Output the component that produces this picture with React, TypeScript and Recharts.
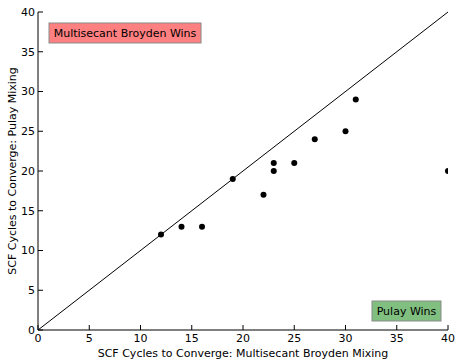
import React from 'react';
import {
  ScatterChart,
  Scatter,
  XAxis,
  YAxis,
  ReferenceLine,
  ReferenceDot,
  Label,
} from 'recharts';

const broydenCycles = [12, 14, 16, 19, 22, 23, 23, 25, 27, 30, 31, 40];
const pulayCycles = [12, 13, 13, 19, 17, 20, 21, 21, 24, 25, 29, 20];
const axisTicks = [0, 5, 10, 15, 20, 25, 30, 35, 40];
const diagonal = [
  { x: 0, y: 0 },
  { x: 40, y: 40 },
];
const annotations = [
  { text: 'Multisecant Broyden Wins', x: 8.49, y: 37.36, fill: '#ff8080', w: 152 },
  { text: 'Pulay Wins', x: 35.95, y: 2.39, fill: '#80bf80', w: 69 },
];

const points = broydenCycles.map((b, i) => ({ x: b, y: pulayCycles[i] }));

const FONT = 'DejaVu Sans, sans-serif';
const FS = 11;
const PLOT = { left: 38, top: 12, width: 410, height: 318 };

const BottomTick = (p: any) => (
  <g>
    <line x1={p.x} y1={p.y} x2={p.x} y2={p.y - 5} stroke="#000" strokeWidth={1} />
    <text x={p.x} y={p.y + 12} textAnchor="middle" fontSize={FS} fontFamily={FONT} fill="#000">
      {p.payload.value}
    </text>
  </g>
);
const TopTick = (p: any) => (
  <line x1={p.x} y1={p.y} x2={p.x} y2={p.y + 5} stroke="#000" strokeWidth={1} />
);
const LeftTick = (p: any) => (
  <g>
    <line x1={p.x} y1={p.y} x2={p.x + 5} y2={p.y} stroke="#000" strokeWidth={1} />
    <text
      x={p.x - 3}
      y={p.y}
      dy="0.36em"
      textAnchor="end"
      fontSize={FS}
      fontFamily={FONT}
      fill="#000"
    >
      {p.payload.value}
    </text>
  </g>
);
const RightTick = (p: any) => (
  <line x1={p.x} y1={p.y} x2={p.x - 5} y2={p.y} stroke="#000" strokeWidth={1} />
);

const Dot = (p: any) => (
  <svg
    x={PLOT.left}
    y={PLOT.top}
    width={PLOT.width}
    height={PLOT.height}
    overflow="hidden"
  >
    <circle cx={p.cx - PLOT.left} cy={p.cy - PLOT.top} r={3} fill="#000" />
  </svg>
);

const makeBox = (a: any) => (p: any) => (
  <g>
    <rect
      x={p.cx - a.w / 2}
      y={p.cy - 10}
      width={a.w}
      height={20}
      fill={a.fill}
      stroke="#8a8a8a"
      strokeWidth={1}
    />
    <text
      x={p.cx}
      y={p.cy}
      dy="0.36em"
      textAnchor="middle"
      fontSize={FS}
      fontFamily={FONT}
      fill="#000"
    >
      {a.text}
    </text>
  </g>
);

export default function App() {
  return (
    <div style={{ position: 'absolute', left: 0, top: 0, width: 455, height: 360, background: '#fff' }}>
      <ScatterChart
        width={455}
        height={360}
        margin={{ top: 12, right: 7, bottom: 0, left: 0 }}
      >
        <XAxis
          type="number"
          dataKey="x"
          domain={[0, 40]}
          ticks={axisTicks}
          allowDataOverflow
          height={30}
          tickSize={0}
          tickMargin={0}
          tickLine={false}
          tick={BottomTick}
          axisLine={{ stroke: '#000', strokeWidth: 1 }}
          interval={0}
        >
          <Label
            content={(props: any) => {
              const vb = props.viewBox;
              return (
                <text
                  x={vb.x + vb.width / 2}
                  y={357}
                  textAnchor="middle"
                  fontSize={FS}
                  fontFamily={FONT}
                  fill="#000"
                >
                  SCF Cycles to Converge: Multisecant Broyden Mixing
                </text>
              );
            }}
          />
        </XAxis>
        <XAxis
          xAxisId="top"
          orientation="top"
          type="number"
          dataKey="x"
          domain={[0, 40]}
          ticks={axisTicks}
          allowDataOverflow
          height={0}
          tickSize={0}
          tickMargin={0}
          tickLine={false}
          tick={TopTick}
          axisLine={{ stroke: '#000', strokeWidth: 1 }}
          interval={0}
        />
        <YAxis
          type="number"
          dataKey="y"
          domain={[0, 40]}
          ticks={axisTicks}
          allowDataOverflow
          width={38}
          tickSize={0}
          tickMargin={0}
          tickLine={false}
          tick={LeftTick}
          axisLine={{ stroke: '#000', strokeWidth: 1 }}
          interval={0}
        >
          <Label
            content={(props: any) => {
              const vb = props.viewBox;
              const cy = vb.y + vb.height / 2;
              return (
                <text
                  x={16}
                  y={cy}
                  transform={`rotate(-90, 16, ${cy})`}
                  textAnchor="middle"
                  fontSize={FS}
                  fontFamily={FONT}
                  fill="#000"
                >
                  SCF Cycles to Converge: Pulay Mixing
                </text>
              );
            }}
          />
        </YAxis>
        <YAxis
          yAxisId="right"
          orientation="right"
          type="number"
          dataKey="y"
          domain={[0, 40]}
          ticks={axisTicks}
          allowDataOverflow
          width={0}
          tickSize={0}
          tickMargin={0}
          tickLine={false}
          tick={RightTick}
          axisLine={{ stroke: '#000', strokeWidth: 1 }}
          interval={0}
        />
        <ReferenceLine segment={diagonal} stroke="#000" strokeWidth={1} />
        <Scatter data={points} fill="#000" shape={Dot} isAnimationActive={false} />
        {annotations.map((a) => (
          <ReferenceDot key={a.text} x={a.x} y={a.y} r={0} shape={makeBox(a)} />
        ))}
      </ScatterChart>
    </div>
  );
}
